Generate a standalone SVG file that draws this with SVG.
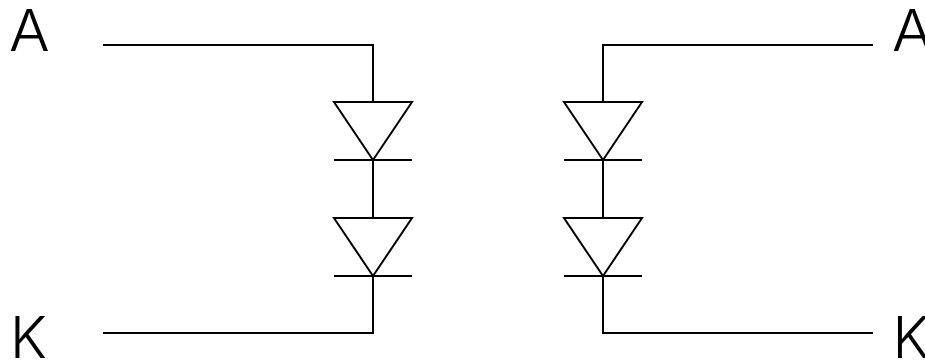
<svg xmlns="http://www.w3.org/2000/svg" width="925" height="360" viewBox="0 0 925 360">
<style>
.w{fill:none;stroke:#000;stroke-width:2}
.t{font-family:"Inter",sans-serif;font-weight:300;font-size:57px;fill:#000}
</style>
<defs>
<g id="diode"><path class="w" d="M-39 0H39L0 58ZM-39 58H39"/></g>
</defs>
<rect width="925" height="360" fill="#fff"/>
<g id="connectors">
<path class="w" d="M103 45H373V102M373 160V218M373 276V333H103"/>
<path class="w" d="M873 45H603V102M603 160V218M603 276V333H873"/>
</g>
<g id="d1"><use href="#diode" x="373" y="102"/></g>
<g id="d2"><use href="#diode" x="373" y="218"/></g>
<g id="d3"><use href="#diode" x="603" y="102"/></g>
<g id="d4"><use href="#diode" x="603" y="218"/></g>
<g id="label-a-left"><text class="t" transform="translate(9 50.5) scale(1.06 1)">A</text></g>
<g id="label-k-left"><text class="t" x="10" y="357.5">K</text></g>
<g id="label-a-right"><text class="t" transform="translate(892 50.5) scale(1.06 1)">A</text></g>
<g id="label-k-right"><text class="t" x="892.5" y="357.5">K</text></g>
</svg>
